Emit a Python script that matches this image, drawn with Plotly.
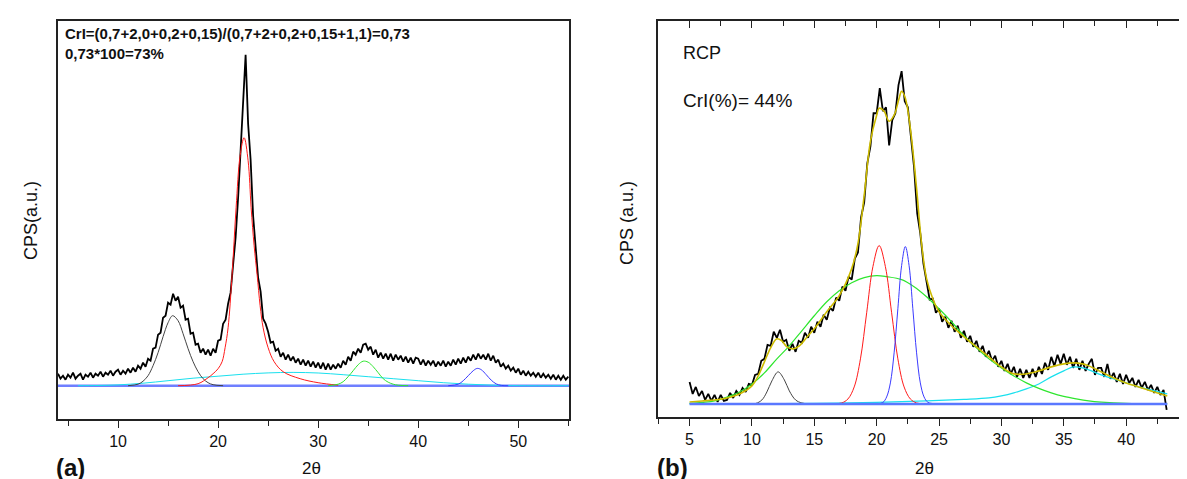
"""XRD patterns with peak deconvolution, panels (a) and (b)."""
import plotly.graph_objects as go

WIDTH = 1187
HEIGHT = 479
FONT = "Liberation Sans, Arial, sans-serif"

# ---- panel (a): measured scan, 4.00 .. 55.00 deg in 0.25 steps
A_START = 4.0
A_STEP = 0.25
A_CPS = [
    12, 7, 10, 6, 11, 8, 13, 7, 10, 12, 6, 11, 9, 13, 8, 12, 10, 14, 9, 13, 11, 15, 10, 14,
    16, 11, 15, 12, 17, 13, 18, 14, 20, 17, 23, 19,
    27, 25, 37, 38, 51, 53, 68, 70, 83, 81, 92, 85,
    89, 78, 80, 66, 67, 52, 53, 41, 42, 33, 37, 31,
    36, 30, 37, 33, 45, 46, 62, 66, 82, 93, 121, 148,
    188, 238, 285, 331, 262, 226, 170, 141, 108, 94, 67, 62,
    54, 43, 44, 35, 37, 29, 33, 26, 31, 25, 29, 23,
    27, 21, 26, 20, 25, 19, 24, 18, 23, 17, 23, 16,
    22, 16, 21, 17, 22, 18, 25, 21, 29, 25, 34, 31,
    37, 33, 41, 42, 36, 39, 31, 36, 28, 33, 27, 32,
    26, 32, 25, 31, 26, 30, 24, 29, 23, 28, 22, 28,
    27, 21, 26, 20, 25, 21, 25, 19, 24, 20, 25, 19,
    24, 20, 26, 21, 27, 22, 28, 23, 29, 25, 31, 26,
    32, 27, 31, 26, 32, 25, 30, 23, 26, 19, 22, 17,
    20, 15, 18, 13, 17, 11, 15, 10, 14, 10, 13, 9,
    13, 8, 12, 8, 11, 7, 11, 6, 10, 6, 10, 6,
    9,
]

# fitted components (a)
A_PK1_X = [11, 12, 12.5, 13, 13.5, 14, 14.5, 15, 15.45, 16, 16.5, 17, 17.5, 18, 18.5, 19, 19.5, 20.5]
A_PK1_Y = [0, 1.5, 4.5, 10, 20, 33, 49, 63, 70, 65, 52, 37, 24, 14, 7, 3, 1, 0]
A_RED_X = [16, 18, 19, 19.5, 20, 20.4, 20.7, 21, 21.4, 21.8, 22.2, 22.6, 23, 23.3, 23.6, 23.9,
           24.2, 24.5, 25, 25.6, 26.5, 28.2, 30, 32]
A_RED_Y = [0, 2, 8, 12, 17, 24, 38, 58, 111, 178, 230, 248, 225, 178, 140, 111,
           80, 58, 38, 24, 14, 7, 3, 0.5]
A_CYAN_X = [6, 8, 10, 12.5, 15, 17.5, 20, 22.5, 25, 27.5, 30, 32.5, 35, 37.5, 40, 42.5, 45, 47.5, 50, 55]
A_CYAN_Y = [0, 0.2, 0.8, 2.5, 5, 7.5, 9.5, 11.5, 12.8, 13.3, 12.7, 11, 9, 7, 5, 3, 1.5, 0.5, 0, 0]
A_GREEN_X = [31, 32, 32.5, 33, 33.5, 34, 34.5, 35, 35.5, 36, 36.5, 37, 37.5, 38, 39]
A_GREEN_Y = [0, 1.5, 4, 9, 15, 21, 24.5, 23.5, 19, 13, 7, 3.5, 1.5, 0.5, 0]
A_BLUE_X = [43, 44, 44.5, 45, 45.5, 45.9, 46.3, 46.8, 47.3, 47.8, 48.3, 49]
A_BLUE_Y = [0, 1.5, 5, 10, 15, 17.3, 16, 11, 5.5, 1.8, 0.3, 0]
A_BASE_X = [4, 55.07]
A_BASE_Y = [0, 0]

# ---- panel (b): measured scan, 5.00 .. 43.25 deg in 0.25 steps
B_START = 5.0
B_STEP = 0.25
B_CPS = [
    22, 10, 17, 8, 13, 4, 10, 3, 9, 2, 9, 3,
    4, 11, 6, 13, 9, 16, 12, 20, 19, 29, 30, 43,
    45, 59, 58, 72, 66, 74, 62, 64, 53, 60, 52, 63,
    61, 71, 66, 77, 71, 82, 77, 89, 84, 96, 93, 106,
    103, 117, 113, 127, 124, 145, 151, 186, 201, 240, 257, 290,
    290, 315, 292, 296, 258, 283, 290, 318, 332, 302, 296, 262,
    236, 190, 170, 140, 123, 104, 105, 91, 95, 82, 87, 76,
    83, 72, 78, 66, 73, 62, 68, 57, 63, 52, 58, 47,
    53, 43, 48, 37, 43, 33, 40, 30, 37, 27, 35, 26,
    34, 26, 35, 27, 37, 30, 41, 34, 47, 38, 49, 40,
    50, 39, 47, 36, 45, 34, 43, 33, 40, 45, 29, 36,
    36, 27, 40, 25, 31, 22, 30, 20, 29, 21, 26, 17,
    24, 16, 22, 14, 19, 11, 17, 9, 14, -6,
]

# fitted components (b)
B_FIT_X = [5, 6, 7, 8, 9, 10, 10.5, 11, 11.5, 12, 12.4, 12.8, 13.3, 13.8, 14.5, 15, 16, 17, 18, 18.5,
           19, 19.5, 20, 20.2, 20.6, 21, 21.4, 21.8, 22, 22.3, 22.7, 23.2, 23.6, 24, 24.5, 25, 26, 27,
           28, 29, 30, 31, 32, 33, 34, 35, 35.8, 36.5, 37, 38, 39, 40, 41, 42, 43.3]
B_FIT_Y = [2, 3, 4, 6, 10, 18, 28, 42, 56, 65, 63, 57, 55, 58, 68, 75, 92, 108, 135, 160,
           208, 262, 288, 295, 292, 282, 288, 305, 312, 305, 275, 215, 160, 125, 105, 92, 78, 67,
           57, 47, 37, 30, 30, 33, 37, 40, 41, 40, 38, 32, 26, 21, 17, 13, 8]
B_PK1_X = [9.5, 10.3, 10.8, 11.2, 11.6, 12.1, 12.6, 13, 13.5, 14, 14.5, 15.5]
B_PK1_Y = [0, 0.5, 4, 12, 23, 32, 24, 13, 4, 1, 0.2, 0]
B_RED_X = [16.2, 16.7, 17.2, 17.7, 18.2, 18.7, 19.2, 19.7, 20.2, 20.7, 21.2, 21.7, 22.2, 22.7, 23.2, 23.7, 24.5]
B_RED_Y = [0, 0.3, 1, 5, 17, 45, 91, 137, 158, 137, 91, 45, 17, 5, 1, 0.3, 0]
B_BLUE_X = [20, 20.5, 20.8, 21.1, 21.4, 21.7, 22, 22.3, 22.6, 22.9, 23.2, 23.5, 23.8, 24.1, 24.6, 25]
B_BLUE_Y = [0, 1.5, 7, 21, 51, 95, 138, 157, 138, 95, 51, 21, 7, 1.7, 0.3, 0]
B_GREEN_X = [5, 6, 7, 8, 9, 10, 11, 12, 13, 14, 15, 16, 17, 18, 19, 20, 20.8, 22, 23, 24, 25, 26, 27,
             28, 29, 30, 31, 32, 33, 34, 35, 36, 37, 38, 40, 43.3]
B_GREEN_Y = [0.5, 1.5, 3, 7, 12, 20, 31, 45, 58, 73, 88, 102, 113, 121, 126, 128, 127, 124, 117, 107, 95,
             82, 68, 56, 45, 36, 28, 21, 15.5, 11, 7.5, 5, 3, 1.8, 0.5, 0.2]
B_CYAN_X = [5, 10, 15, 20, 24, 27, 29, 30, 31, 32, 33, 34, 35, 35.8, 36.5, 37, 38, 39, 40, 41, 42, 43.3]
B_CYAN_Y = [0, 0.3, 0.6, 1.5, 3, 4.5, 6, 8, 11, 15, 20, 27, 33, 37, 36, 34, 29, 25, 21, 17, 14, 10]
B_BASE_X = [5, 43.3]
B_BASE_Y = [0, 0]

A_TEXT = ["CrI=(0,7+2,0+0,2+0,15)/(0,7+2+0,2+0,15+1,1)=0,73", "0,73*100=73%"]
B_TEXT = ["RCP", "CrI(%)= 44%"]


def px(x):
    return x / WIDTH


def py(y):
    return 1 - y / HEIGHT


def line(x, y, color, width=1.0, xa="x", ya="y", shape="spline"):
    return go.Scatter(x=x, y=y, mode="lines", xaxis=xa, yaxis=ya,
                      line=dict(color=color, width=width, shape=shape),
                      hoverinfo="skip", showlegend=False)


def text(x, y, s, size, bold=False, angle=0, xanchor="left"):
    return dict(x=px(x), y=py(y), xref="paper", yref="paper", text=f"<b>{s}</b>" if bold else s,
                showarrow=False, xanchor=xanchor, yanchor="middle", textangle=angle,
                font=dict(family=FONT, size=size, color="#111"))


a_x = [A_START + A_STEP * i for i in range(len(A_CPS))]
b_x = [B_START + B_STEP * i for i in range(len(B_CPS))]

fig = go.Figure()
# panel (a)
fig.add_trace(line(a_x, A_CPS, "#000000", 1.8, shape="linear"))
fig.add_trace(line(A_BASE_X, A_BASE_Y, "#6f7fff", 2.5, shape="linear"))
fig.add_trace(line(A_CYAN_X, A_CYAN_Y, "#19e0ee"))
fig.add_trace(line(A_PK1_X, A_PK1_Y, "#444444"))
fig.add_trace(line(A_RED_X, A_RED_Y, "#ff1a1a"))
fig.add_trace(line(A_GREEN_X, A_GREEN_Y, "#2ee62e"))
fig.add_trace(line(A_BLUE_X, A_BLUE_Y, "#3a3aff"))
# panel (b)
fig.add_trace(line(b_x, B_CPS, "#000000", 1.8, "x2", "y2", shape="linear"))
fig.add_trace(line(B_BASE_X, B_BASE_Y, "#5a78ff", 2.5, "x3", "y2", shape="linear"))
fig.add_trace(line(B_CYAN_X, B_CYAN_Y, "#19e0ee", 1.2, "x2", "y2"))
fig.add_trace(line(B_GREEN_X, B_GREEN_Y, "#2ee62e", 1.2, "x2", "y2"))
fig.add_trace(line(B_PK1_X, B_PK1_Y, "#444444", 1.0, "x2", "y2"))
fig.add_trace(line(B_RED_X, B_RED_Y, "#ff1a1a", 1.0, "x2", "y2"))
fig.add_trace(line(B_BLUE_X, B_BLUE_Y, "#3a3aff", 1.0, "x2", "y2"))
fig.add_trace(line(B_FIT_X, B_FIT_Y, "#cdbb00", 1.6, "x2", "y2"))

frame = dict(showline=True, mirror=True, linecolor="#222", linewidth=1.5,
             showgrid=False, zeroline=False)
xbase = dict(frame, ticks="outside", ticklen=7, tickwidth=1.3, tickcolor="#222",
             tickfont=dict(family=FONT, size=16, color="#111"))
ybase = dict(frame, ticks="", showticklabels=False)

fig.update_layout(
    width=WIDTH, height=HEIGHT,
    margin=dict(l=0, r=0, t=0, b=0),
    paper_bgcolor="white", plot_bgcolor="white",
    showlegend=False,
    xaxis=dict(xbase, domain=[px(50), px(561)], range=[4.0, 55.07], anchor="y",
               tick0=0, dtick=10,
               minor=dict(ticks="outside", tick0=0, dtick=5, ticklen=5, tickwidth=1.3, tickcolor="#222")),
    yaxis=dict(ybase, domain=[py(411), py(12.7)], range=[-33.3, 365], anchor="x"),
    xaxis2=dict(xbase, domain=[px(650), px(1181)], range=[2.47, 45.04], anchor="y2",
                tick0=0, dtick=5,
                minor=dict(ticks="outside", tick0=0, dtick=2.5, ticklen=5, tickwidth=1.3, tickcolor="#222")),
    xaxis3=dict(overlaying="x2", side="top", anchor="y2", range=[2.47, 45.04],
                showline=False, showgrid=False, zeroline=False, showticklabels=False,
                ticks="inside", ticklen=7, tickwidth=1.3, tickcolor="#222", tick0=0, dtick=5,
                minor=dict(ticks="inside", tick0=0, dtick=2.5, ticklen=5, tickwidth=1.3, tickcolor="#222")),
    yaxis2=dict(ybase, domain=[py(409.3), py(12.7)], range=[-13.3, 382.3], anchor="x2"),
    annotations=[
        text(55, 25, A_TEXT[0], 15, bold=True),
        text(55, 45, A_TEXT[1], 15, bold=True),
        text(673, 45, B_TEXT[0], 18),
        text(673, 92, B_TEXT[1], 19),
        text(23, 213, "CPS(a.u.)", 18, angle=-90, xanchor="center"),
        text(619, 215, "CPS (a.u.)", 18, angle=-90, xanchor="center"),
        text(304, 460, "2\u03b8", 17, xanchor="center"),
        text(916, 460, "2\u03b8", 17, xanchor="center"),
        text(63, 459, "(a)", 24, bold=True, xanchor="center"),
        text(664, 459, "(b)", 24, bold=True, xanchor="center"),
    ],
)

fig.write_html("out.html")
